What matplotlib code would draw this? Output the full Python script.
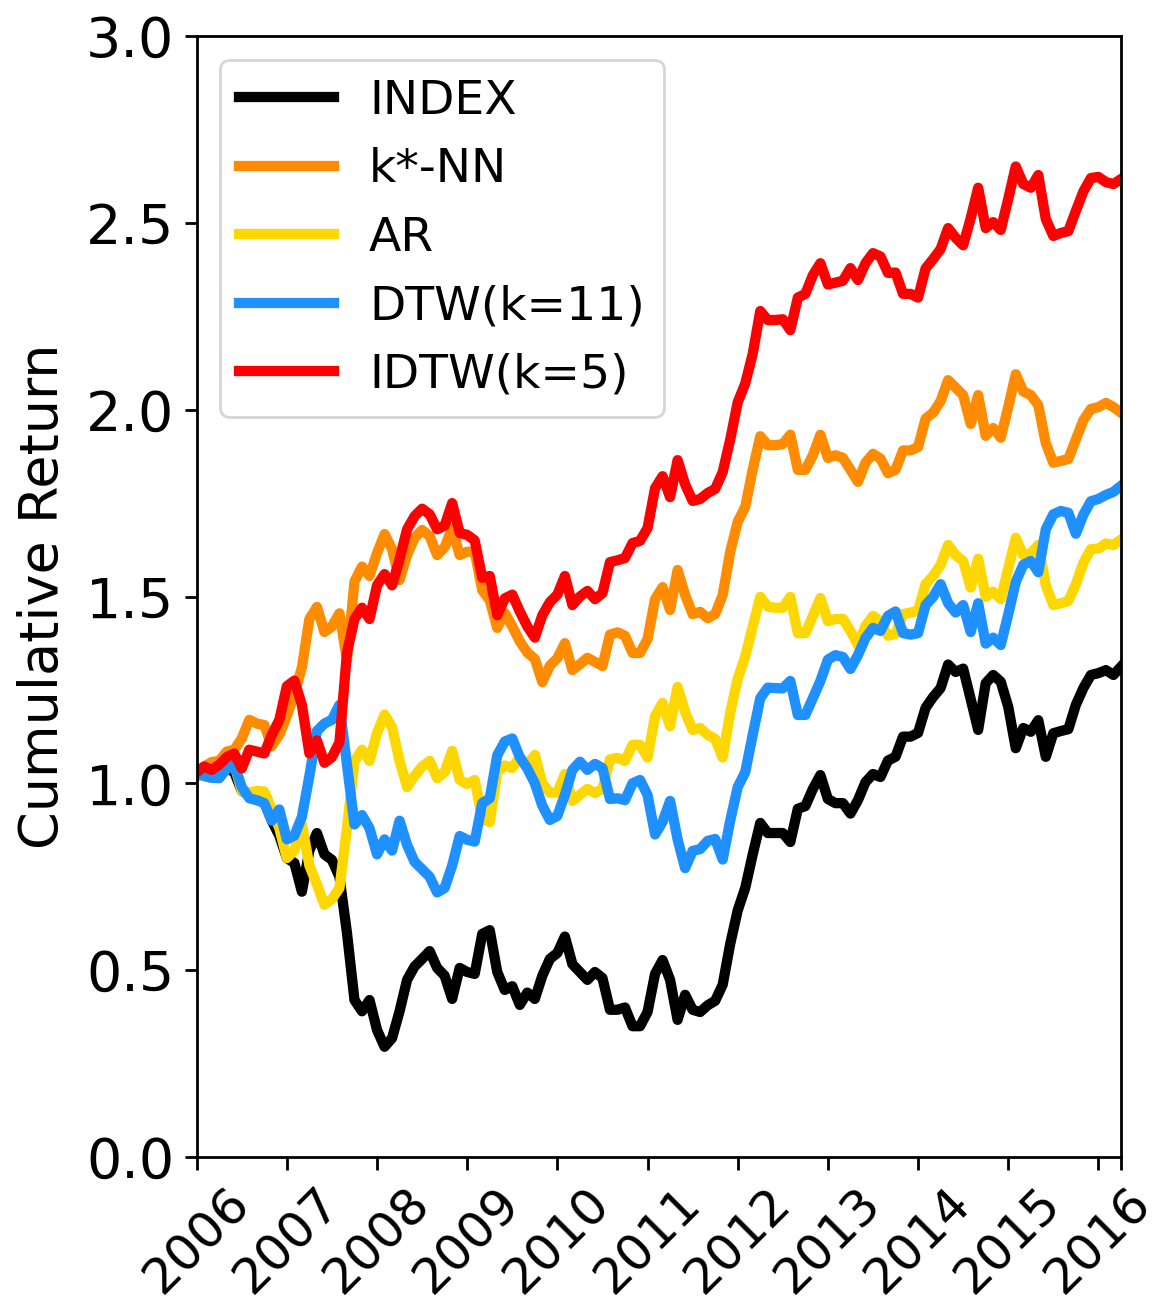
"""Cumulative return of the index and four forecasting strategies, 2006-2016."""

import numpy as np
import matplotlib

matplotlib.use("Agg")
import matplotlib.pyplot as plt

# monthly cumulative returns, first value = Jan 2006
index_ret = [
    1.02, 1.02, 1.015, 1.015, 1.04, 1.03, 0.98, 0.97, 0.965, 0.95, 0.90, 0.86,
    0.80, 0.787, 0.71, 0.82, 0.867, 0.81, 0.795, 0.75, 0.60, 0.42, 0.39, 0.42,
    0.34, 0.295, 0.318, 0.39, 0.474, 0.51, 0.53, 0.551, 0.506, 0.485, 0.423, 0.506,
    0.495, 0.49, 0.597, 0.607, 0.495, 0.447, 0.457, 0.407, 0.44, 0.423, 0.485, 0.53,
    0.546, 0.59, 0.516, 0.495, 0.474, 0.495, 0.479, 0.394, 0.394, 0.40, 0.35, 0.35,
    0.388, 0.49, 0.527, 0.474, 0.367, 0.434, 0.394, 0.388, 0.406, 0.418, 0.461, 0.57,
    0.66, 0.72, 0.81, 0.894, 0.867, 0.867, 0.867, 0.843, 0.932, 0.939, 0.985, 1.022,
    0.958, 0.947, 0.947, 0.919, 0.955, 1.003, 1.025, 1.017, 1.061, 1.071, 1.125, 1.125,
    1.135, 1.202, 1.231, 1.255, 1.318, 1.298, 1.307, 1.226, 1.143, 1.268, 1.29, 1.272,
    1.205, 1.094, 1.148, 1.138, 1.169, 1.071, 1.134, 1.14, 1.145, 1.21, 1.255, 1.29,
    1.295, 1.303, 1.29, 1.312,
]
knn_ret = [
    1.03, 1.045, 1.057, 1.06, 1.085, 1.09, 1.12, 1.17, 1.16, 1.156, 1.10, 1.13,
    1.18, 1.24, 1.31, 1.44, 1.472, 1.405, 1.42, 1.455, 1.33, 1.54, 1.58, 1.555,
    1.616, 1.667, 1.627, 1.544, 1.611, 1.657, 1.678, 1.662, 1.611, 1.632, 1.683, 1.611,
    1.62, 1.62, 1.517, 1.49, 1.416, 1.456, 1.42, 1.38, 1.35, 1.333, 1.271, 1.315,
    1.335, 1.375, 1.303, 1.319, 1.336, 1.325, 1.314, 1.398, 1.404, 1.395, 1.349, 1.349,
    1.386, 1.493, 1.525, 1.464, 1.571, 1.504, 1.453, 1.459, 1.442, 1.453, 1.504, 1.62,
    1.70, 1.74, 1.84, 1.929, 1.905, 1.905, 1.908, 1.933, 1.839, 1.839, 1.878, 1.933,
    1.871, 1.878, 1.871, 1.839, 1.807, 1.858, 1.882, 1.869, 1.83, 1.839, 1.891, 1.891,
    1.90, 1.976, 1.992, 2.023, 2.079, 2.059, 2.039, 1.962, 2.039, 1.93, 1.951, 1.925,
    2.007, 2.095, 2.049, 2.039, 2.012, 1.91, 1.858, 1.863, 1.868, 1.92, 1.972, 2.002,
    2.007, 2.018, 2.007, 1.992,
]
ar_ret = [
    1.02, 1.02, 1.015, 1.015, 1.04, 1.05, 0.98, 0.975, 0.98, 0.978, 0.93, 0.88,
    0.80, 0.82, 0.89, 0.78, 0.73, 0.675, 0.69, 0.72, 0.88, 1.06, 1.09, 1.06,
    1.135, 1.184, 1.15, 1.06, 0.99, 1.02, 1.045, 1.06, 1.014, 1.03, 1.087, 1.009,
    0.998, 1.009, 0.905, 0.896, 1.03, 1.048, 1.041, 1.07, 1.049, 1.076, 1.0, 0.975,
    0.975, 1.025, 0.953, 0.969, 0.985, 0.974, 0.985, 1.064, 1.068, 1.06, 1.103, 1.103,
    1.069, 1.18, 1.215, 1.153, 1.258, 1.191, 1.143, 1.148, 1.13, 1.119, 1.069, 1.19,
    1.28, 1.34, 1.42, 1.499, 1.473, 1.47, 1.47, 1.499, 1.402, 1.402, 1.448, 1.496,
    1.434, 1.44, 1.44, 1.408, 1.37, 1.421, 1.448, 1.434, 1.395, 1.40, 1.453, 1.457,
    1.462, 1.533, 1.555, 1.585, 1.638, 1.611, 1.595, 1.524, 1.601, 1.499, 1.513, 1.493,
    1.575, 1.657, 1.611, 1.616, 1.638, 1.53, 1.477, 1.482, 1.488, 1.533, 1.59, 1.627,
    1.628, 1.642, 1.638, 1.652,
]
dtw_ret = [
    1.025, 1.02, 1.015, 1.014, 1.04, 1.05, 0.99, 0.96, 0.955, 0.947, 0.90, 0.93,
    0.85, 0.86, 0.91, 1.02, 1.14, 1.16, 1.17, 1.21, 1.05, 0.89, 0.915, 0.88,
    0.81, 0.85, 0.82, 0.90, 0.835, 0.79, 0.77, 0.75, 0.708, 0.72, 0.78, 0.859,
    0.849, 0.844, 0.947, 0.96, 1.075, 1.112, 1.12, 1.07, 1.04, 1.0, 0.94, 0.902,
    0.913, 0.969, 1.036, 1.058, 1.036, 1.052, 1.041, 0.958, 0.96, 0.955, 1.0, 1.009,
    0.969, 0.863, 0.897, 0.953, 0.85, 0.773, 0.819, 0.824, 0.846, 0.851, 0.796, 0.90,
    0.99, 1.03, 1.13, 1.228, 1.256, 1.255, 1.254, 1.274, 1.183, 1.183, 1.228, 1.274,
    1.331, 1.343, 1.338, 1.306, 1.343, 1.389, 1.416, 1.408, 1.448, 1.46, 1.402, 1.398,
    1.402, 1.477, 1.499, 1.533, 1.482, 1.457, 1.477, 1.405, 1.482, 1.374, 1.39, 1.37,
    1.452, 1.539, 1.585, 1.595, 1.565, 1.68, 1.72, 1.729, 1.724, 1.668, 1.719, 1.755,
    1.761, 1.772, 1.78, 1.796,
]
idtw_ret = [
    1.03, 1.045, 1.036, 1.05, 1.07, 1.08, 1.04, 1.09, 1.085, 1.08, 1.13, 1.17,
    1.26, 1.275, 1.21, 1.08, 1.115, 1.055, 1.07, 1.11, 1.35, 1.44, 1.47, 1.44,
    1.53, 1.56, 1.53, 1.60, 1.68, 1.715, 1.735, 1.72, 1.68, 1.69, 1.75, 1.67,
    1.665, 1.65, 1.55, 1.555, 1.45, 1.495, 1.505, 1.46, 1.42, 1.39, 1.45, 1.485,
    1.505, 1.555, 1.477, 1.50, 1.515, 1.493, 1.509, 1.592, 1.597, 1.603, 1.643, 1.649,
    1.683, 1.79, 1.822, 1.766, 1.865, 1.80, 1.756, 1.761, 1.777, 1.788, 1.833, 1.92,
    2.02, 2.07, 2.15, 2.264, 2.24, 2.24, 2.242, 2.213, 2.30, 2.31, 2.36, 2.392,
    2.335, 2.34, 2.345, 2.379, 2.347, 2.392, 2.419, 2.41, 2.366, 2.367, 2.31, 2.31,
    2.30, 2.378, 2.403, 2.43, 2.486, 2.46, 2.44, 2.512, 2.594, 2.486, 2.502, 2.481,
    2.564, 2.651, 2.604, 2.594, 2.628, 2.51, 2.465, 2.473, 2.478, 2.532, 2.584, 2.62,
    2.623, 2.609, 2.604, 2.617,
]

years = [str(y) for y in range(2006, 2017)]

series = [
    ("INDEX", index_ret, "black"),
    ("k*-NN", knn_ret, "darkorange"),
    ("AR", ar_ret, "gold"),
    ("DTW(k=11)", dtw_ret, "dodgerblue"),
    ("IDTW(k=5)", idtw_ret, "red"),
]

plt.rcParams["font.family"] = "DejaVu Sans"

fig = plt.figure(figsize=(5.805, 6.53), dpi=200)
ax = fig.add_axes([0.1694, 0.1141, 0.7961, 0.8583])

months = np.arange(len(index_ret))
for label, values, color in series:
    ax.plot(months, values, color=color, linewidth=3.7, label=label)

last = months[-1]
ax.set_xlim(0, last)
ax.set_ylim(0, 3.0)
ax.set_xticks(list(range(0, 121, 12)) + [last])
ax.set_xticklabels(years + [""], rotation=45)
ax.set_yticks(np.arange(0, 3.01, 0.5))
ax.tick_params(axis="both", length=4.5, width=1.0)
ax.tick_params(axis="x", labelsize=18)
ax.tick_params(axis="y", labelsize=20)
for spine in ax.spines.values():
    spine.set_linewidth(1.0)
ax.set_ylabel("Cumulative Return", fontsize=19.5, labelpad=6)

leg = ax.legend(loc="upper left", fontsize=17, labelspacing=0.5,
                handlelength=2.0, handletextpad=0.75, borderpad=0.4)
for line in leg.get_lines():
    line.set_linewidth(3.7)

fig.savefig("out.png", dpi=200)
